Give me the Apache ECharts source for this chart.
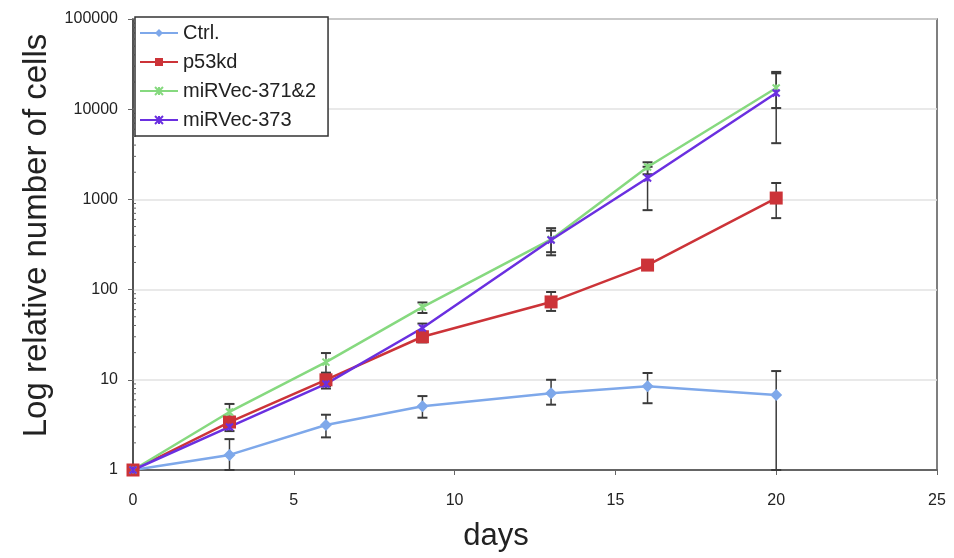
<!DOCTYPE html>
<html>
<head>
<meta charset="utf-8">
<script src="https://cdn.jsdelivr.net/npm/echarts@6/dist/echarts.min.js"></script>
<style>
  html, body { margin: 0; padding: 0; background: #fff; }
  #chart { width: 954px; height: 558px; }
</style>
</head>
<body>
<div id="chart"></div>
<script>
// days on the x axis
var days = [0, 3, 6, 9, 13, 16, 20]

// mean values per series, with low / high ends of the error bars
var ctrl = [1, 1.47, 3.15, 5.1, 7.1, 8.5, 6.8]
var ctrlLow = [1, 1.0, 2.3, 3.8, 5.3, 5.5, 1.0]
var ctrlHigh = [1, 2.2, 4.1, 6.6, 10, 11.9, 12.5]

var p53kd = [1, 3.4, 10, 30, 73, 187, 1035]
var p53kdLow = [1, 3.0, 8.5, 26, 58, 170, 620]
var p53kdHigh = [1, 3.9, 11.5, 34, 94, 205, 1520]

var mir3712 = [1, 4.4, 15.7, 64, 360, 2290, 17200]
var mir3712Low = [1, 3.6, 12, 55, 240, 1900, 10300]
var mir3712High = [1, 5.4, 19.8, 72, 480, 2580, 25900]

var mir373 = [1, 3.0, 9, 37.5, 355, 1730, 15100]
var mir373Low = [1, 2.7, 8, 33, 260, 760, 4200]
var mir373High = [1, 3.3, 10.5, 42, 450, 2300, 25000]

var seriesNames = ['Ctrl.', 'p53kd', 'miRVec-371&2', 'miRVec-373']
var colors = ['#7ea8ea', '#cc3338', '#86d97f', '#6a2fe0']

var font = 'Liberation Sans'
var xPath = 'path://M0,0 L10,10 M10,0 L0,10 M5,0 L5,10'

function pairs(ys) {
  return days.map(function (d, i) { return [d, ys[i]] })
}

function errData(lo, hi) {
  return days.map(function (d, i) { return [d, lo[i], hi[i]] })
}

function errorBars(lo, hi) {
  return {
    type: 'custom',
    silent: true,
    clip: false,
    z: 1,
    data: errData(lo, hi),
    renderItem: function (params, api) {
      var x = api.value(0)
      var top = api.coord([x, api.value(2)])
      var bot = api.coord([x, api.value(1)])
      var w = 5
      return {
        type: 'group',
        children: [
          { type: 'line', shape: { x1: top[0], y1: top[1], x2: bot[0], y2: bot[1] }, style: { stroke: '#3a3a3a', lineWidth: 1.5 } },
          { type: 'line', shape: { x1: top[0] - w, y1: top[1], x2: top[0] + w, y2: top[1] }, style: { stroke: '#3a3a3a', lineWidth: 2 } },
          { type: 'line', shape: { x1: bot[0] - w, y1: bot[1], x2: bot[0] + w, y2: bot[1] }, style: { stroke: '#3a3a3a', lineWidth: 2 } }
        ]
      }
    }
  }
}

// log minor ticks 2..9 in each decade
var minorVals = []
for (var e = 0; e < 5; e++) {
  for (var k = 2; k <= 9; k++) minorVals.push([0, k * Math.pow(10, e)])
}

function lineSeries(name, ys, color, symbol, size) {
  return {
    name: name,
    type: 'line',
    data: pairs(ys),
    clip: false,
    z: 3,
    symbol: symbol,
    symbolSize: size,
    lineStyle: { color: color, width: 2.5 },
    itemStyle: { color: color, borderColor: color, borderWidth: symbol === xPath ? 2 : 0 }
  }
}

var chart = echarts.init(document.getElementById('chart'))

var option = {
  backgroundColor: '#fff',
  animation: false,
  grid: {
    left: 133, right: 17, top: 19, bottom: 88,
    show: true, borderColor: '#555', borderWidth: 1.5, backgroundColor: 'transparent'
  },
  legend: {
    orient: 'vertical',
    left: 135, top: 17,
    backgroundColor: '#fff',
    borderColor: '#333',
    borderWidth: 1.5,
    borderRadius: 0,
    padding: [6, 12, 6, 4],
    itemGap: 9,
    itemWidth: 38,
    itemHeight: 10,
    textStyle: { fontFamily: font, fontSize: 20, color: '#222' },
    data: seriesNames
  },
  xAxis: {
    type: 'value',
    min: 0, max: 25, interval: 5,
    name: 'days',
    nameLocation: 'middle',
    nameGap: 51,
    nameTextStyle: { fontFamily: font, fontSize: 31, color: '#222', padding: [0, 78, 0, 0] },
    axisLine: { lineStyle: { color: '#444', width: 1.5 } },
    axisTick: { show: true, length: 5, lineStyle: { color: '#666' } },
    axisLabel: { fontFamily: font, fontSize: 16, color: '#222', margin: 23 },
    splitLine: { show: false }
  },
  yAxis: {
    type: 'log',
    logBase: 10,
    min: 1, max: 100000,
    name: 'Log relative number of cells',
    nameLocation: 'middle',
    nameGap: 72,
    nameTextStyle: { fontFamily: font, fontSize: 33, color: '#222', padding: [0, 0, 0, 18] },
    axisLine: { show: true, lineStyle: { color: '#444', width: 1.5 } },
    axisTick: { show: true, length: 5, lineStyle: { color: '#666' } },
    axisLabel: {
      fontFamily: font, fontSize: 16, color: '#222', margin: 15,
      formatter: function (v) { return String(Math.round(v)) }
    },
    splitLine: { show: true, lineStyle: { color: '#e2e2e2', width: 1.5 } }
  },
  series: [
    {
      type: 'custom',
      silent: true,
      clip: false,
      data: minorVals,
      renderItem: function (params, api) {
        var p = api.coord([api.value(0), api.value(1)])
        return { type: 'line', shape: { x1: p[0], y1: p[1], x2: p[0] + 3, y2: p[1] }, style: { stroke: '#666', lineWidth: 1 } }
      }
    },
    errorBars(ctrlLow, ctrlHigh),
    errorBars(p53kdLow, p53kdHigh),
    errorBars(mir3712Low, mir3712High),
    errorBars(mir373Low, mir373High),
    lineSeries(seriesNames[0], ctrl, colors[0], 'diamond', 12),
    lineSeries(seriesNames[1], p53kd, colors[1], 'rect', 13),
    lineSeries(seriesNames[2], mir3712, colors[2], xPath, 7),
    lineSeries(seriesNames[3], mir373, colors[3], xPath, 7)
  ]
}

chart.setOption(option)
</script>
</body>
</html>
